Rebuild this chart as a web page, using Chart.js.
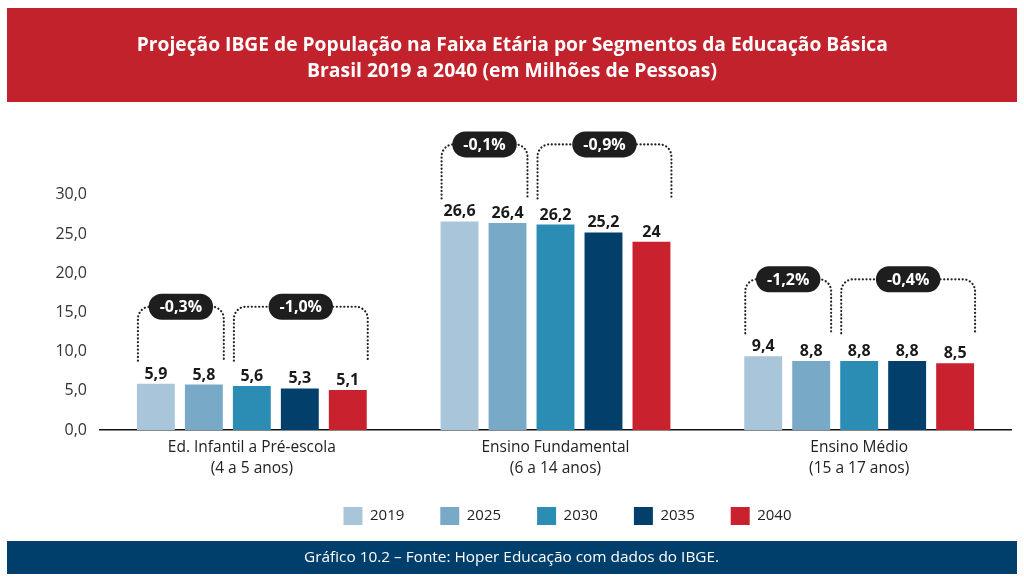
<!DOCTYPE html>
<html><head><meta charset="utf-8">
<script src="https://cdn.jsdelivr.net/npm/chart.js@4.4.1/dist/chart.umd.min.js"></script>
<style>
html,body{margin:0;padding:0;background:#fff;width:1024px;height:579px;overflow:hidden;font-family:"Open Sans",sans-serif}
.band{position:absolute;left:7px;width:1010px}
.line{position:absolute;left:0;width:1024px;text-align:center;white-space:nowrap;color:#fff}
.line span{display:inline-block;transform-origin:center center}
</style></head><body>
<div class="band" style="top:8px;height:94px;background:#c1222c"></div>
<div class="band" style="top:541px;height:33px;background:#003f6b"></div>
<canvas id="c" width="1024" height="579" style="position:absolute;left:0;top:0"></canvas>
<div class="line" style="top:31px;font-size:19px;line-height:26px;font-weight:700"><span data-w="751">Projeção IBGE de População na Faixa Etária por Segmentos da Educação Básica</span></div>
<div class="line" style="top:57px;font-size:19px;line-height:26px;font-weight:700"><span data-w="410">Brasil 2019 a 2040 (em Milhões de Pessoas)</span></div>
<div class="line" style="top:546px;font-size:15px;line-height:20px;font-weight:400"><span data-w="415">Gráfico 10.2 – Fonte: Hoper Educação com dados do IBGE.</span></div>
<script>
const categories = [["Ed. Infantil a Pré-escola","(4 a 5 anos)"],["Ensino Fundamental","(6 a 14 anos)"],["Ensino Médio","(15 a 17 anos)"]];
const years = ["2019","2025","2030","2035","2040"];
const v2019 = [5.9, 26.6, 9.4];
const v2025 = [5.8, 26.4, 8.8];
const v2030 = [5.6, 26.2, 8.8];
const v2035 = [5.3, 25.2, 8.8];
const v2040 = [5.1, 24, 8.5];
const yTicks = [0, 5, 10, 15, 20, 25, 30];
// growth brackets: [first dataset index, last dataset index, label] per category
const bracketsInfantil = [[0, 1, "-0,3%"], [2, 4, "-1,0%"]];
const bracketsFundamental = [[0, 1, "-0,1%"], [2, 4, "-0,9%"]];
const bracketsMedio = [[0, 1, "-1,2%"], [2, 4, "-0,4%"]];
const brackets = [bracketsInfantil, bracketsFundamental, bracketsMedio];

const colors = ["#a9c5d9", "#78a9c7", "#2b8db4", "#023f6a", "#c9222e"];
const series = [v2019, v2025, v2030, v2035, v2040];

document.querySelectorAll('.line span').forEach(s => {
  const w = s.getBoundingClientRect().width;
  s.style.transform = 'scaleX(' + (parseFloat(s.dataset.w) / w) + ')';
});

const fmt = v => String(v).replace('.', ',');

const annot = {
  id: 'annot',
  afterLayout(chart) {
    const lg = chart.legend;
    if (lg) { lg.left += 62; lg.right += 62; lg.top -= 21; lg.bottom -= 21; }
  },
  afterDatasetsDraw(chart) {
    const ctx = chart.ctx;
    const ys = chart.scales.y;
    ctx.save();
    ctx.font = '700 16px "Open Sans"';
    ctx.fillStyle = '#1a1a1a';
    ctx.textAlign = 'center';
    ctx.textBaseline = 'alphabetic';
    chart.data.datasets.forEach((ds, di) => {
      chart.getDatasetMeta(di).data.forEach((bar, i) => {
        ctx.fillText(fmt(ds.data[i]), bar.x, bar.y - 5);
      });
    });
    brackets.forEach((list, ci) => {
      const maxV = Math.max(...series.map(s => s[ci]));
      const yB = ys.getPixelForValue(maxV) - 23;
      const yT = yB - 54;
      list.forEach(([a, b, label]) => {
        const ba = chart.getDatasetMeta(a).data[ci];
        const bb = chart.getDatasetMeta(b).data[ci];
        const xl = ba.x - ba.width / 2 + 1;
        const xr = bb.x + bb.width / 2 + 1;
        const r = 12;
        ctx.beginPath();
        ctx.moveTo(xl, yB);
        ctx.lineTo(xl, yT + r);
        ctx.arcTo(xl, yT, xl + r, yT, r);
        ctx.lineTo(xr - r, yT);
        ctx.arcTo(xr, yT, xr, yT + r, r);
        ctx.lineTo(xr, yB);
        ctx.setLineDash([0.1, 3.6]);
        ctx.lineCap = 'round';
        ctx.lineWidth = 2.2;
        ctx.strokeStyle = '#222';
        ctx.stroke();
        ctx.setLineDash([]);
        ctx.font = '700 16px "Open Sans"';
        const tw = ctx.measureText(label).width;
        const pw = tw + 22, ph = 26;
        const cx = (xl + xr) / 2;
        ctx.beginPath();
        ctx.roundRect(cx - pw / 2, yT - ph / 2, pw, ph, ph / 2);
        ctx.fillStyle = '#1e1e1e';
        ctx.fill();
        ctx.fillStyle = '#fff';
        ctx.textBaseline = 'middle';
        ctx.fillText(label, cx, yT + 1);
        ctx.textBaseline = 'alphabetic';
        ctx.fillStyle = '#1a1a1a';
      });
    });
    ctx.restore();
  }
};

new Chart(document.getElementById('c'), {
  type: 'bar',
  data: {
    labels: categories,
    datasets: years.map((y, i) => ({
      label: y,
      data: series[i],
      backgroundColor: colors[i],
      borderWidth: 0,
      categoryPercentage: 0.79,
      barPercentage: 0.79
    }))
  },
  options: {
    responsive: false,
    devicePixelRatio: 1,
    animation: false,
    layout: { padding: { top: 132, right: 13, left: 0, bottom: 23 } },
    plugins: {
      tooltip: { enabled: false },
      title: { display: false },
      legend: {
        position: 'bottom',
        labels: {
          boxWidth: 19, boxHeight: 18, padding: 36,
          color: '#222', font: { family: '"Open Sans"', size: 15 }
        }
      }
    },
    scales: {
      y: {
        min: 0, max: 38,
        afterBuildTicks(scale) { scale.ticks = yTicks.map(v => ({ value: v })); },
        afterFit(scale) { scale.width = 100; },
        grid: { display: false },
        border: { display: false },
        ticks: {
          padding: 5,
          color: '#333',
          font: { family: '"Open Sans"', size: 16 },
          callback: v => v.toFixed(1).replace('.', ',')
        }
      },
      x: {
        afterFit(scale) { scale.height = 62; },
        grid: { display: false, drawTicks: false },
        border: { display: true, color: '#111', width: 1.5 },
        ticks: {
          padding: 8,
          color: '#222',
          font: { family: '"Open Sans"', size: 15.5, lineHeight: 1.3 }
        }
      }
    }
  },
  plugins: [annot]
});
</script>
</body></html>
